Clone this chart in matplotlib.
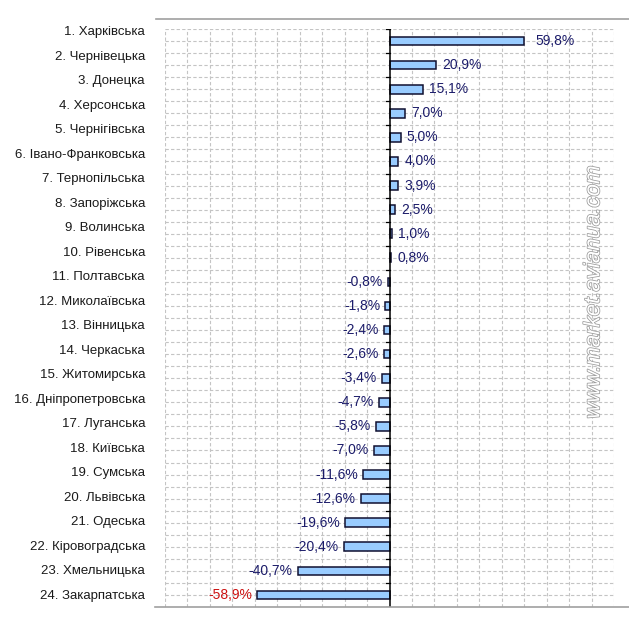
#!/usr/bin/env python3
# plot.py - regional change chart (horizontal bars)

import matplotlib
matplotlib.use("Agg")
import matplotlib.pyplot as plt
import matplotlib.patheffects as pe
from matplotlib.lines import Line2D

plt.rcParams['font.family'] = ['Liberation Sans', 'DejaVu Sans']

regions = [
    "1. Харківська", "2. Чернівецька", "3. Донецка", "4. Херсонська",
    "5. Чернігівська", "6. Івано-Франковська", "7. Тернопільська",
    "8. Запоріжська", "9. Волинська", "10. Рівенська", "11. Полтавська",
    "12. Миколаївська", "13. Вінницька", "14. Черкаська", "15. Житомирська",
    "16. Дніпропетровська", "17. Луганська", "18. Київська", "19. Сумська",
    "20. Львівська", "21. Одеська", "22. Кіровоградська", "23. Хмельницька",
    "24. Закарпатська",
]
values = [59.8, 20.9, 15.1, 7.0, 5.0, 4.0, 3.9, 2.5, 1.0, 0.8, -0.8, -1.8,
          -2.4, -2.6, -3.4, -4.7, -5.8, -7.0, -11.6, -12.6, -19.6, -20.4,
          -40.7, -58.9]
watermark = "www.market.avianua.com"

W, H = 629, 620
fig = plt.figure(figsize=(W / 100, H / 100), dpi=100)

def px_axes(left, top, right, bottom):
    return fig.add_axes([left / W, 1 - bottom / H, (right - left) / W, (bottom - top) / H])

n = len(values)
ax = px_axes(165, 29, 614, 607)
ax.set_xlim(-100, 100)
ax.set_ylim(n - 0.5, -0.5)

# dashed grid every 10% and every half row
for x in range(-100, 101, 10):
    if x != 0:
        ax.axvline(x, color='#c4c4c4', lw=0.8, ls=(0, (3, 2)), zorder=0)
for k in range(2 * n):
    ax.axhline(-0.5 + k * 0.5, color='#c4c4c4', lw=0.8, ls=(0, (3, 2)), zorder=0)

pos = list(range(n))
ax.barh(pos, values, height=0.36, color='#99ccff', edgecolor='#101030',
        linewidth=1.1, zorder=3)

for i, v in enumerate(values):
    txt = f"{v:.1f}%".replace('.', ',')
    col = '#cc1111' if v < -50 else '#1c1c6a'
    if v >= 0:
        gap = 5 if v > 50 else 2.6
        ax.text(v + gap, i, txt, ha='left', va='center', fontsize=10, color=col, zorder=4)
    else:
        ax.text(v - 2.4, i, txt, ha='right', va='center', fontsize=10, color=col, zorder=4)

ax.axvline(0, color='black', lw=1.1, zorder=5)
for k in range(n + 1):
    ax.plot([-1.4, 0], [k - 0.5, k - 0.5], color='black', lw=0.9, zorder=5)

for s in ax.spines.values():
    s.set_visible(False)
ax.set_xticks([])
ax.set_yticks([])

ax.text(0.955, 0.545, watermark, transform=ax.transAxes, rotation=90,
        ha='center', va='center', fontsize=16, style='italic', color='white',
        path_effects=[pe.Stroke(linewidth=1.1, foreground='#9a9a9a'), pe.Normal()],
        zorder=6)

# region names column
lab = px_axes(0, 19.75, 145, 608.25)
lab.set_xlim(0, 1)
lab.set_ylim(n - 0.5, -0.5)
lab.axis('off')
for i, name in enumerate(regions):
    lab.text(1, i, name, ha='right', va='center', fontsize=9.5, color='#1a1a1a')

# frame lines top and bottom
fig.add_artist(Line2D([156 / W, 1], [1 - 19 / H, 1 - 19 / H], color='#a0a0a0', lw=1.2))
fig.add_artist(Line2D([155 / W, 1], [1 - 607 / H, 1 - 607 / H], color='#a0a0a0', lw=1.2))

fig.savefig('out.png', dpi=100, facecolor='white')
